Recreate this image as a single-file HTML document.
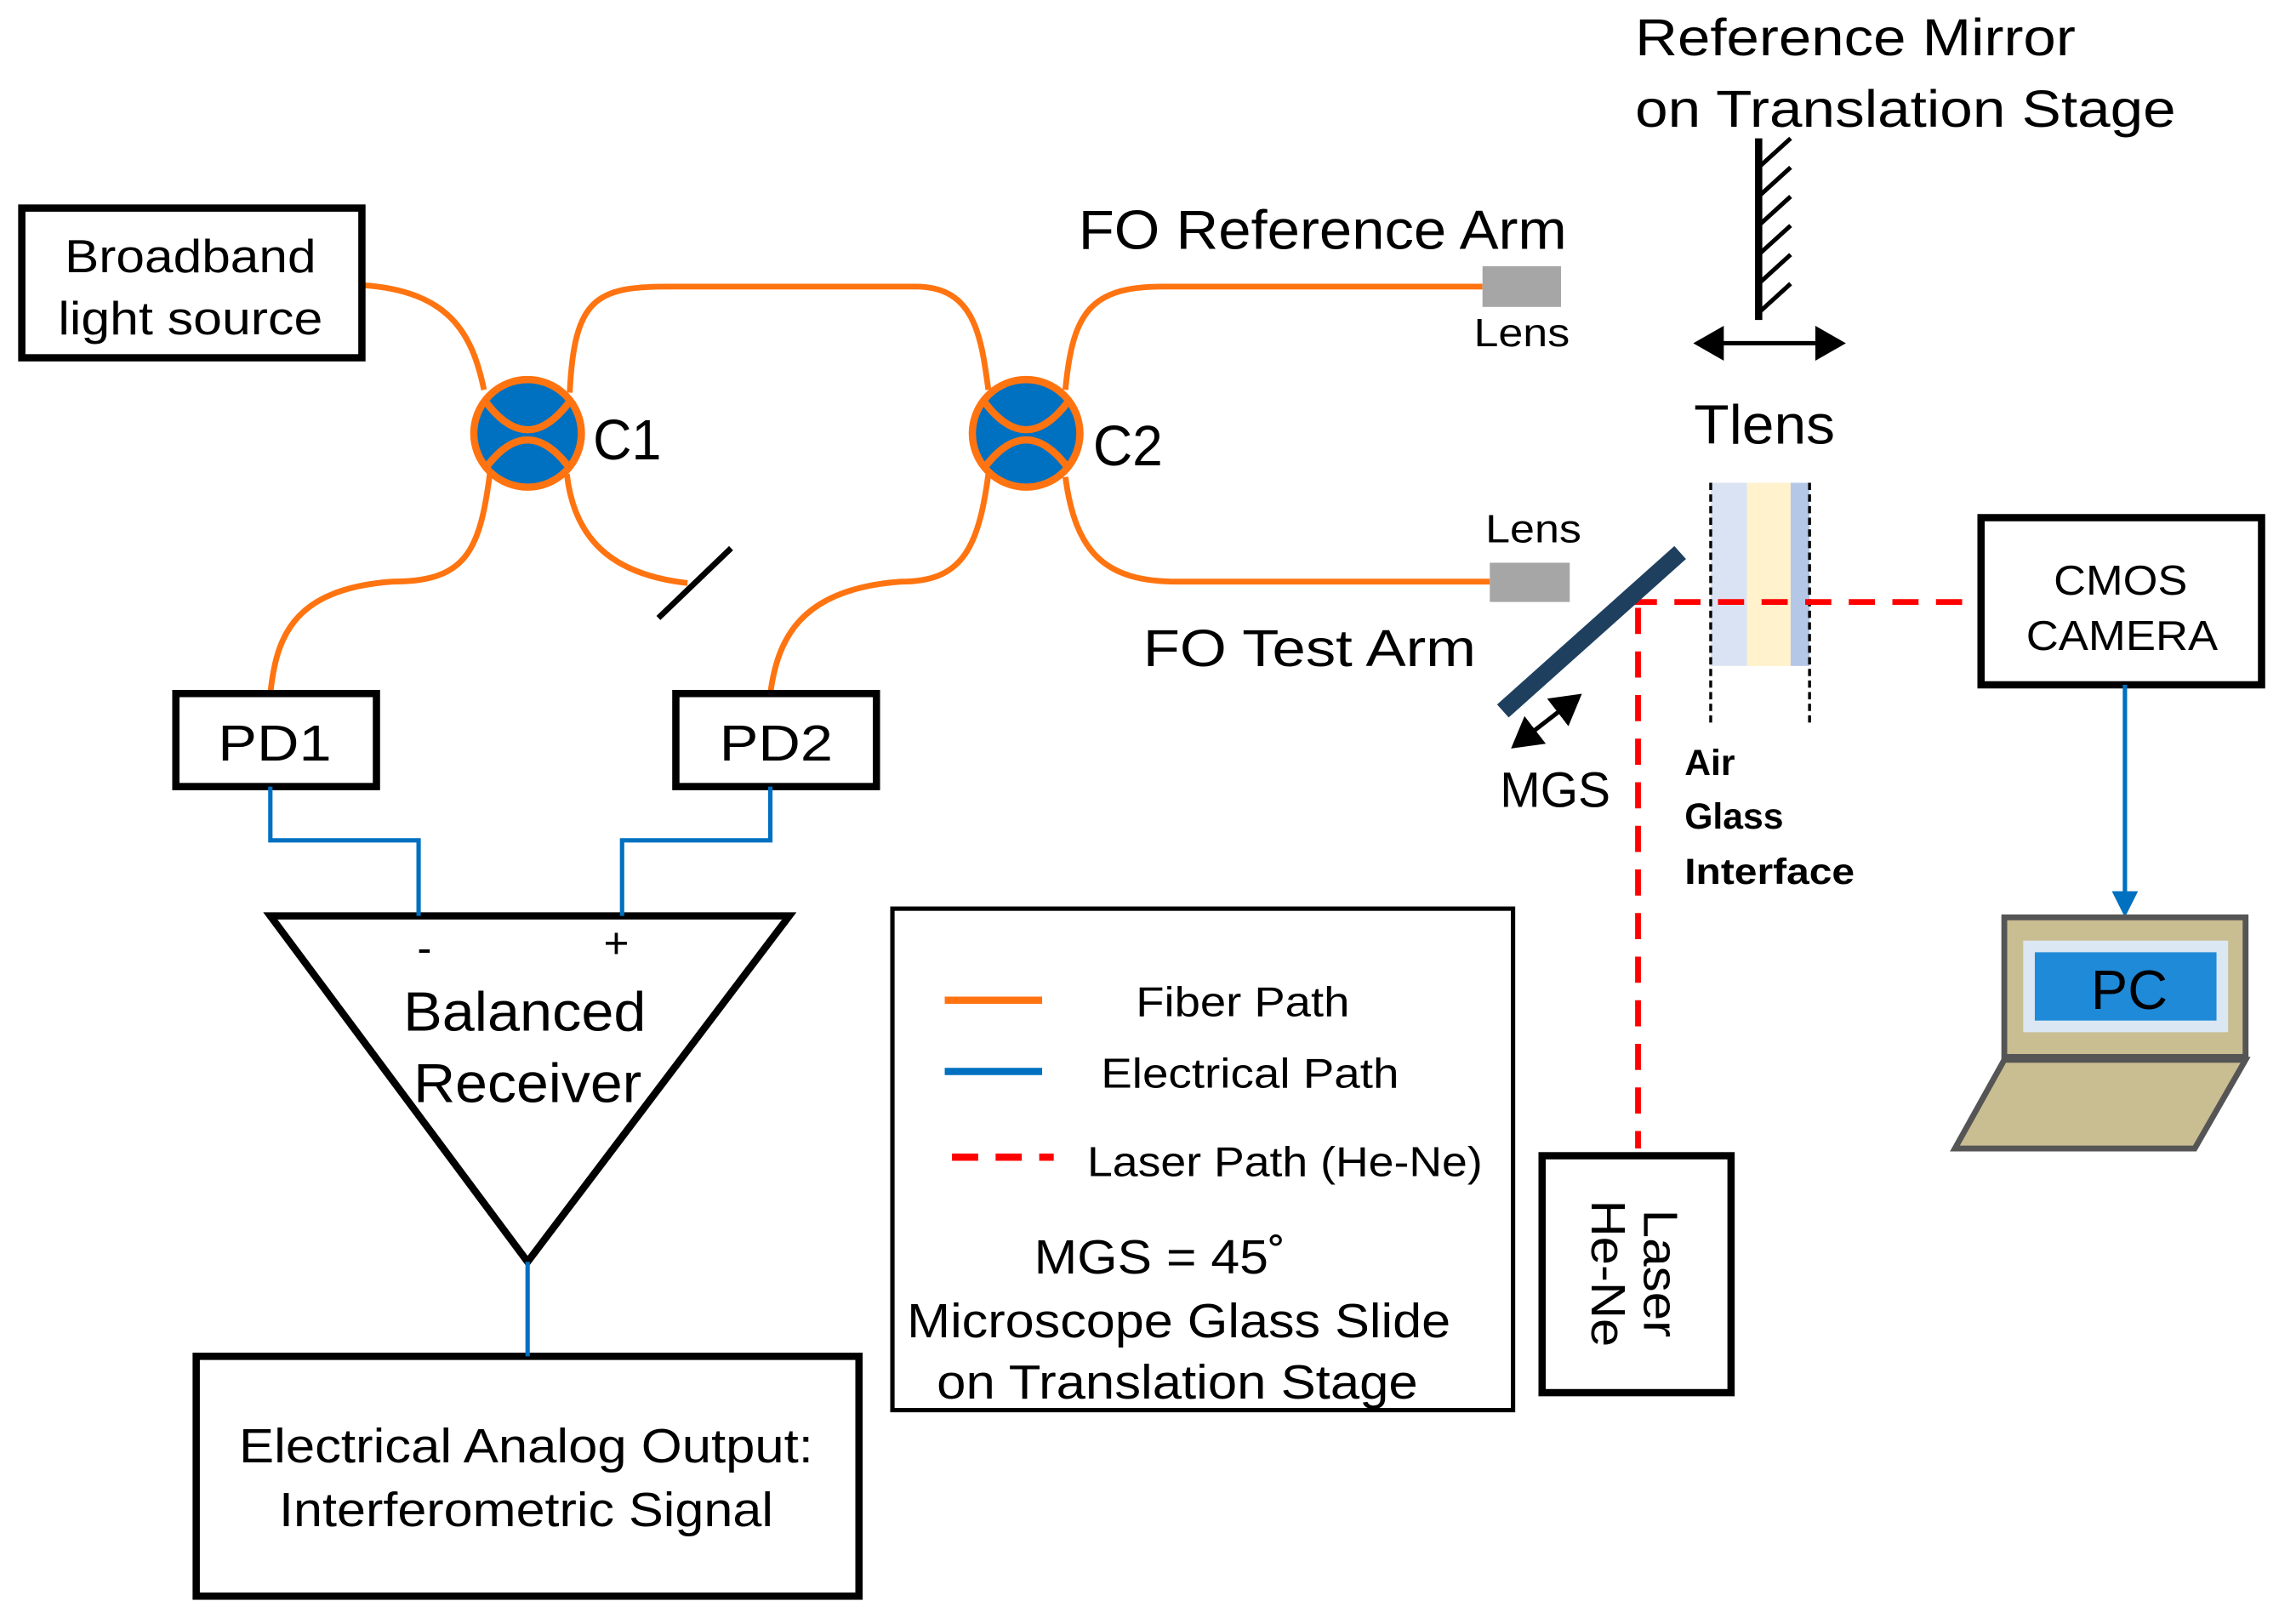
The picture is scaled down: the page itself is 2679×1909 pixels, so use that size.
<!DOCTYPE html>
<html><head><style>html,body{margin:0;padding:0;background:#fff}svg{display:block}text{font-family:"Liberation Sans",sans-serif}</style></head>
<body>
<svg width="2679" height="1909" viewBox="0 0 1568 1117" xmlns="http://www.w3.org/2000/svg">
<defs>
<marker id="ah" markerWidth="8" markerHeight="8" refX="6" refY="4" orient="auto-start-reverse" markerUnits="strokeWidth"><path d="M0,0 L7,4 L0,8 z" fill="#000"/></marker>
<marker id="ab" markerWidth="6" markerHeight="6" refX="5" refY="3" orient="auto" markerUnits="strokeWidth"><path d="M0,0 L6,3 L0,6 z" fill="#0070c0"/></marker>
</defs>
<rect width="1568" height="1117" fill="#fff"/>
<g fill="none" stroke="#ff7410" stroke-width="4">
<path d="M249,196 C310,200 325,230 333,268"/>
<path d="M392,270 C395,205 410,197 460,197 L630,197 C670,197 675,230 680,268"/>
<path d="M733,268 C738,215 750,197 800,197 L1020,197"/>
<path d="M733,328 C740,380 760,400 810,400 L1025,400"/>
<path d="M337,326 C330,380 320,400 270,400 C200,405 190,440 186,477"/>
<path d="M390,326 C395,370 420,395 473,401"/>
<path d="M680,326 C673,380 660,400 620,400 C550,405 535,440 530,477"/>
</g>
<g stroke="#ff7410" stroke-width="5" fill="#0070c0">
<circle cx="363" cy="298" r="37"/>
<path d="M334,276 Q363,315 392,276 M334,322 Q363,283 392,322" fill="none"/>
<circle cx="706" cy="298" r="37"/>
<path d="M677,276 Q706,315 735,276 M677,322 Q706,283 735,322" fill="none"/>
</g>
<g lengthAdjust="spacingAndGlyphs">
<text x="408" y="316" font-size="39" textLength="47" lengthAdjust="spacingAndGlyphs">C1</text>
<text x="752" y="320" font-size="39" textLength="48" lengthAdjust="spacingAndGlyphs">C2</text>
</g>
<line x1="453" y1="425" x2="503" y2="377" stroke="#000" stroke-width="4"/>
<g fill="none" stroke="#000" stroke-width="5">
<rect x="15" y="143" width="234" height="103"/>
<rect x="121" y="477" width="138" height="64"/>
<rect x="465" y="477" width="138" height="64"/>
<polygon points="186,630 543,630 363,868"/>
<rect x="135" y="933" width="456" height="165"/>
<rect x="1061" y="795" width="130" height="163"/>
<rect x="1363" y="356" width="193" height="115"/>
</g>
<rect x="614" y="625" width="427" height="345" fill="none" stroke="#000" stroke-width="3"/>
<g text-anchor="middle">
<text x="131" y="187" font-size="32" textLength="173" lengthAdjust="spacingAndGlyphs">Broadband</text>
<text x="131" y="230" font-size="32" textLength="182" lengthAdjust="spacingAndGlyphs">light source</text>
<text x="189" y="523" font-size="35" textLength="78" lengthAdjust="spacingAndGlyphs">PD1</text>
<text x="534" y="523" font-size="35" textLength="78" lengthAdjust="spacingAndGlyphs">PD2</text>
<text x="292" y="662" font-size="30">-</text>
<text x="424" y="659" font-size="30">+</text>
<text x="361" y="709" font-size="38" textLength="167" lengthAdjust="spacingAndGlyphs">Balanced</text>
<text x="363" y="758" font-size="38" textLength="157" lengthAdjust="spacingAndGlyphs">Receiver</text>
<text x="362" y="1006" font-size="33" textLength="395" lengthAdjust="spacingAndGlyphs">Electrical Analog Output:</text>
<text x="362" y="1050" font-size="33" textLength="340" lengthAdjust="spacingAndGlyphs">Interferometric Signal</text>
<text x="855" y="699" font-size="29" textLength="147" lengthAdjust="spacingAndGlyphs">Fiber Path</text>
<text x="860" y="748" font-size="29" textLength="205" lengthAdjust="spacingAndGlyphs">Electrical Path</text>
<text x="884" y="809" font-size="29" textLength="272" lengthAdjust="spacingAndGlyphs">Laser Path (He-Ne)</text>
<text x="798" y="876" font-size="33" textLength="173" lengthAdjust="spacingAndGlyphs">MGS = 45˚</text>
<text x="811" y="920" font-size="33" textLength="374" lengthAdjust="spacingAndGlyphs">Microscope Glass Slide</text>
<text x="810" y="962" font-size="33" textLength="331" lengthAdjust="spacingAndGlyphs">on Translation Stage</text>
<text x="1459" y="409" font-size="29" textLength="92" lengthAdjust="spacingAndGlyphs">CMOS</text>
<text x="1460" y="447" font-size="29" textLength="132" lengthAdjust="spacingAndGlyphs">CAMERA</text>
<text x="1214" y="305" font-size="38" textLength="97" lengthAdjust="spacingAndGlyphs">Tlens</text>
<text x="910" y="171" font-size="38" textLength="336" lengthAdjust="spacingAndGlyphs">FO Reference Arm</text>
<text x="901" y="458" font-size="36" textLength="229" lengthAdjust="spacingAndGlyphs">FO Test Arm</text>
<text x="1047" y="238" font-size="27" textLength="66" lengthAdjust="spacingAndGlyphs">Lens</text>
<text x="1055" y="373" font-size="27" textLength="66" lengthAdjust="spacingAndGlyphs">Lens</text>
<text x="1070" y="555" font-size="34" textLength="76" lengthAdjust="spacingAndGlyphs">MGS</text>
</g>
<text x="1125" y="38" font-size="36" textLength="303" lengthAdjust="spacingAndGlyphs">Reference Mirror</text>
<text x="1125" y="87" font-size="36" textLength="372" lengthAdjust="spacingAndGlyphs">on Translation Stage</text>
<g fill="none" stroke="#0070c0" stroke-width="3">
<polyline points="186,541 186,578 288,578 288,630"/>
<polyline points="530,541 530,578 428,578 428,630"/>
<line x1="363" y1="868" x2="363" y2="933"/>
<line x1="650" y1="737" x2="717" y2="737" stroke-width="5"/>
<line x1="1462" y1="471" x2="1462" y2="628" marker-end="url(#ab)"/>
</g>
<line x1="650" y1="688" x2="717" y2="688" stroke="#ff7410" stroke-width="5"/>
<line x1="655" y1="796" x2="725" y2="796" stroke="#ff0000" stroke-width="5" stroke-dasharray="18,12"/>
<rect x="1020" y="183" width="54" height="28" fill="#a6a6a6"/>
<rect x="1025" y="387" width="55" height="27" fill="#a6a6a6"/>
<rect x="1177" y="332" width="25" height="126" fill="#dae3f3"/>
<rect x="1202" y="332" width="30" height="126" fill="#fff2cc"/>
<rect x="1232" y="332" width="13" height="126" fill="#b4c7e7"/>
<g stroke="#000" stroke-width="2" stroke-dasharray="5,3">
<line x1="1177" y1="332" x2="1177" y2="500"/>
<line x1="1245" y1="332" x2="1245" y2="500"/>
</g>
<g font-size="25" font-weight="bold">
<text x="1159" y="533">Air</text>
<text x="1159" y="570">Glass</text>
<text x="1159" y="608" textLength="117" lengthAdjust="spacingAndGlyphs">Interface</text>
</g>
<g stroke="#ff0000" stroke-width="4" stroke-dasharray="18,12">
<line x1="1127" y1="418" x2="1127" y2="790"/>
<line x1="1122" y1="414" x2="1360" y2="414"/>
</g>
<line x1="1034" y1="489" x2="1156" y2="380" stroke="#1f3f5f" stroke-width="12"/>
<line x1="1042" y1="513" x2="1086" y2="479" stroke="#000" stroke-width="3" marker-end="url(#ah)" marker-start="url(#ah)"/>
<line x1="1210" y1="95" x2="1210" y2="220" stroke="#000" stroke-width="5"/>
<g stroke="#000" stroke-width="3">
<line x1="1210" y1="115" x2="1232" y2="95"/>
<line x1="1210" y1="135" x2="1232" y2="115"/>
<line x1="1210" y1="155" x2="1232" y2="135"/>
<line x1="1210" y1="175" x2="1232" y2="155"/>
<line x1="1210" y1="195" x2="1232" y2="175"/>
<line x1="1210" y1="215" x2="1232" y2="195"/>
</g>
<line x1="1168" y1="236" x2="1267" y2="236" stroke="#000" stroke-width="3" marker-end="url(#ah)" marker-start="url(#ah)"/>
<g transform="translate(1126,876) rotate(90)" text-anchor="middle" font-size="33">
<text x="0" y="-5" textLength="88" lengthAdjust="spacingAndGlyphs">Laser</text>
<text x="0" y="31" textLength="101" lengthAdjust="spacingAndGlyphs">He-Ne</text>
</g>
<rect x="1379" y="631" width="166" height="96" fill="#c9bd92" stroke="#555" stroke-width="4"/>
<rect x="1392" y="647" width="141" height="63" fill="#dbe7f3"/>
<rect x="1400" y="655" width="125" height="47" fill="#1f8ad8"/>
<text x="1465" y="694" font-size="38" text-anchor="middle">PC</text>
<polygon points="1379,729 1545,729 1510,790 1345,790" fill="#c9bd92" stroke="#555" stroke-width="4"/>
</svg>
</body></html>
